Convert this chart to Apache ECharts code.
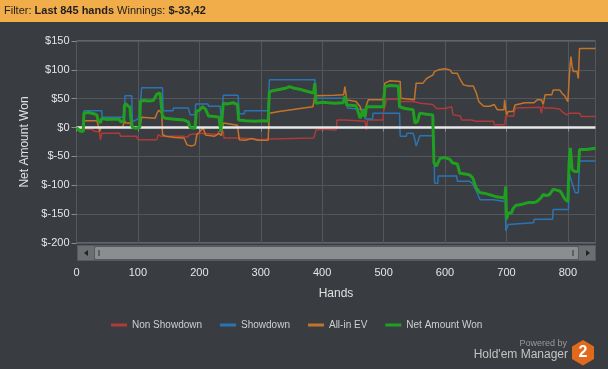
<!DOCTYPE html>
<html><head><meta charset="utf-8">
<script src="https://cdn.jsdelivr.net/npm/echarts@6/dist/echarts.min.js"></script>
<style>html,body{margin:0;padding:0;background:#393c40;}#c{width:608px;height:369px;}</style>
</head><body><div id="c"></div>
<script>
const seriesNames = ['Non Showdown', 'Showdown', 'All-in EV', 'Net Amount Won'];
const seriesColors = ['#b0393a', '#2b74b4', '#c4742a', '#20a020'];
const xTickStep = 100, xMax = 845;
const yMin = -200, yMax = 150, yTickStep = 50;

const nonShowdown = [[0,0],[10,-2],[25,-3],[30,-7],[37,-7],[39,-21],[41,-10],[70,-10],[72,-15],[98,-15],[100,-21],[131,-21],[133,-12],[137,-15],[175,-15],[180,-17],[185,-12],[187,-10],[206,-10],[208,-12],[230,-12],[231,-7],[239,-7],[240,-18],[265,-18],[266,-20],[290,-20],[300,-21],[315,-20],[350,-19],[386,-18],[388,-12],[390,-4],[400,-3],[423,-4],[424,13],[437,13],[440,11],[470,11],[472,-4],[474,13],[499,13],[500,28],[502,37],[505,49],[527,49],[528,45],[548,45],[560,42],[580,40],[586,33],[600,33],[603,36],[611,36],[613,22],[625,20],[627,13],[643,13],[650,11],[679,11],[680,5],[697,5],[699,20],[712,20],[714,34],[755,35],[757,25],[759,38],[762,34],[774,34],[776,33],[787,32],[790,28],[798,22],[801,22],[803,25],[819,25],[822,19],[845,19]];

const showdown = [[0,0],[11,0],[12,29],[41,29],[42,18],[78,18],[79,55],[90,55],[91,10],[100,15],[103,22],[106,69],[140,69],[141,29],[157,29],[158,34],[182,34],[185,22],[193,22],[194,41],[214,41],[215,37],[234,37],[236,0],[238,0],[239,56],[263,56],[265,24],[273,24],[274,29],[312,29],[314,83],[388,83],[390,51],[440,51],[441,34],[469,31],[470,15],[482,15],[483,25],[526,25],[527,-15],[537,-15],[538,-10],[548,-10],[551,-21],[553,-32],[556,-32],[559,-14],[582,-14],[583,-96],[588,-97],[589,-84],[619,-84],[620,-93],[640,-93],[645,-97],[651,-110],[657,-125],[679,-125],[680,-128],[698,-128],[699,-179],[703,-168],[744,-165],[745,-159],[775,-159],[776,-142],[801,-142],[802,-79],[806,-93],[812,-113],[817,-113],[819,-58],[845,-58]];

const allInEV = [[0,0],[11,0],[12,12],[33,12],[35,5],[38,-7],[40,1],[70,1],[75,0],[78,12],[80,8],[87,8],[90,0],[103,0],[106,18],[128,16],[131,25],[134,30],[139,25],[140,-12],[145,-15],[160,-17],[175,-18],[180,-30],[187,-32],[193,-30],[196,-12],[200,-8],[206,0],[210,-13],[225,-15],[232,-10],[236,-14],[239,8],[242,6],[262,4],[265,-21],[275,-22],[285,-19],[295,-22],[312,-22],[314,25],[330,28],[350,31],[370,34],[385,36],[388,55],[420,56],[435,57],[437,71],[440,48],[455,45],[462,36],[466,20],[470,32],[475,48],[499,48],[502,77],[510,81],[527,80],[528,51],[550,48],[553,77],[564,77],[570,85],[580,91],[583,97],[589,100],[600,102],[608,100],[612,94],[620,94],[624,85],[630,74],[638,72],[646,72],[651,60],[655,45],[663,37],[673,37],[680,40],[685,31],[696,31],[697,48],[700,22],[703,28],[711,28],[714,39],[730,43],[745,43],[750,48],[757,48],[760,40],[763,57],[774,57],[776,65],[787,65],[790,60],[795,55],[800,45],[801,45],[803,100],[805,123],[807,105],[809,97],[815,97],[817,85],[819,137],[845,137]];

const netAmountWon = [[0,0],[3,-3],[6,-6],[11,-7],[12,25],[20,26],[28,24],[33,22],[35,13],[38,16],[39,8],[41,16],[50,14],[60,15],[70,14],[72,10],[77,11],[78,38],[80,42],[83,38],[87,36],[88,20],[90,18],[91,0],[96,-1],[103,0],[104,46],[110,47],[118,46],[125,47],[128,50],[131,58],[136,60],[139,58],[140,19],[145,16],[155,15],[165,14],[175,13],[182,10],[185,0],[193,-1],[195,28],[200,30],[205,36],[210,32],[215,20],[225,19],[232,18],[235,-7],[237,-4],[239,42],[245,41],[255,43],[262,40],[264,13],[275,12],[290,11],[305,12],[312,11],[314,62],[320,64],[330,66],[340,68],[347,71],[355,68],[365,66],[375,63],[386,60],[388,77],[390,42],[400,44],[420,42],[434,43],[437,54],[440,39],[455,38],[462,16],[466,30],[470,18],[472,36],[490,36],[500,36],[502,71],[510,73],[524,72],[526,36],[535,33],[548,31],[551,8],[555,10],[559,25],[570,23],[580,22],[582,-61],[586,-67],[592,-53],[600,-52],[608,-55],[612,-61],[620,-63],[624,-79],[630,-80],[640,-82],[645,-87],[651,-105],[657,-113],[665,-114],[675,-117],[684,-120],[697,-122],[699,-102],[700,-159],[703,-148],[708,-148],[711,-140],[715,-135],[725,-133],[735,-130],[745,-130],[750,-128],[756,-122],[760,-116],[765,-118],[770,-116],[776,-107],[780,-108],[787,-110],[790,-114],[795,-124],[800,-128],[801,-128],[802,-61],[804,-35],[807,-73],[811,-76],[817,-76],[819,-38],[830,-38],[845,-36]];

const zeroLine = [[0,0],[xMax,0]];
const seriesData = [nonShowdown, showdown, allInEV, netAmountWon];

const FONT = 'Liberation Sans, Arial, sans-serif';
const chart = echarts.init(document.getElementById('c'), null, {renderer:'canvas'});

const series = seriesData.map((d, i) => ({
  name: seriesNames[i], type: 'line', data: d, showSymbol: false, symbol: 'none',
  lineStyle: {color: seriesColors[i], width: i === 3 ? 3 : 1.5},
  itemStyle: {color: seriesColors[i]},
  z: i === 3 ? 5 : 2, animation: false
}));
series.push({
  name: 'zero', type: 'line', data: zeroLine, showSymbol: false, symbol: 'none',
  lineStyle: {color: '#e8e8e8', width: 2.5}, z: 4, animation: false, silent: true
});

chart.setOption({
  backgroundColor: '#393c40',
  animation: false,
  grid: {left: 76.5, right: 12.5, top: 41, bottom: 126, show: true,
         borderColor: '#8a8d90', borderWidth: 1, backgroundColor: 'transparent'},
  legend: {
    data: seriesNames, left: 106, top: 315, itemWidth: 16, itemHeight: 3, itemGap: 18,
    icon: 'rect',
    textStyle: {color: '#cfcfcf', fontSize: 10, fontFamily: FONT}
  },
  xAxis: {
    type: 'value', min: 0, max: xMax, interval: xTickStep, offset: 18,
    name: 'Hands', nameLocation: 'middle', nameGap: 27,
    nameTextStyle: {color: '#e0e0e0', fontSize: 12, fontFamily: FONT},
    axisLine: {show: false},
    axisTick: {show: true, length: 4, lineStyle: {color: '#8a8d90'}},
    axisLabel: {color: '#e6e6e6', fontSize: 11, fontFamily: FONT, margin: 6,
      showMaxLabel: false},
    splitLine: {show: true, lineStyle: {color: '#53575c', width: 1}}
  },
  yAxis: {
    type: 'value', min: yMin, max: yMax, interval: yTickStep,
    name: 'Net Amount Won', nameLocation: 'middle', nameGap: 46, nameRotate: 90,
    nameTextStyle: {color: '#e0e0e0', fontSize: 12, fontFamily: FONT},
    axisLine: {show: false},
    axisTick: {show: true, length: 5, lineStyle: {color: '#8a8d90'}},
    axisLabel: {color: '#e6e6e6', fontSize: 11, fontFamily: FONT, margin: 7,
      formatter: v => '$' + v},
    splitLine: {show: true, lineStyle: {color: '#53575c', width: 1}}
  },
  graphic: [
    {type: 'rect', left: 0, top: 0, shape: {width: 608, height: 22}, style: {fill: '#f2ad4b'}, z: 10},
    {type: 'text', left: 4, top: 5, z: 11, style: {
      text: '{a|Filter: }{b|Last 845 hands}{a| Winnings: }{b|$-33,42}',
      rich: {a: {fontSize: 11, fontFamily: FONT, fill: '#1e1e1e'},
             b: {fontSize: 11, fontFamily: FONT, fontWeight: 'bold', fill: '#1e1e1e'}}}},
    {type: 'rect', left: 77, top: 245, shape: {width: 519, height: 16}, style: {fill: '#575a5e'}, z: 10},
    {type: 'rect', left: 78, top: 246, shape: {width: 16, height: 14}, style: {fill: '#6c6f72'}, z: 11},
    {type: 'rect', left: 579, top: 246, shape: {width: 16, height: 14}, style: {fill: '#6c6f72'}, z: 11},
    {type: 'polygon', shape: {points: [[84,253],[88,250],[88,256]]}, style: {fill: '#222'}, z: 12},
    {type: 'polygon', shape: {points: [[590,253],[586,250],[586,256]]}, style: {fill: '#222'}, z: 12},
    {type: 'rect', left: 95, top: 247, shape: {width: 483, height: 12, r: 1}, style: {fill: '#8b8e91'}, z: 11},
    {type: 'rect', left: 98, top: 250, shape: {width: 2, height: 6}, style: {fill: '#5c5f62'}, z: 12},
    {type: 'rect', left: 572, top: 250, shape: {width: 2, height: 6}, style: {fill: '#5c5f62'}, z: 12},
    {type: 'text', right: 41, top: 339, z: 11, style: {text: 'Powered by', fontSize: 9, fontFamily: FONT, fill: '#9a9a9a'}},
    {type: 'text', right: 40, top: 349, z: 11, style: {text: "Hold'em Manager", fontSize: 12, fontFamily: FONT, fill: '#c4c4c4'}},
    {type: 'polygon', shape: {points: [[583,340],[594,346.5],[594,359],[583,365.5],[572,359],[572,346.5]]}, style: {fill: '#e0691c'}, z: 11},
    {type: 'text', x: 583, y: 353, z: 12, style: {text: '2', fontSize: 16, fontWeight: 'bold', fontFamily: FONT, fill: '#fff', align: 'center', verticalAlign: 'middle'}}
  ],
  series: series
});
</script></body></html>
